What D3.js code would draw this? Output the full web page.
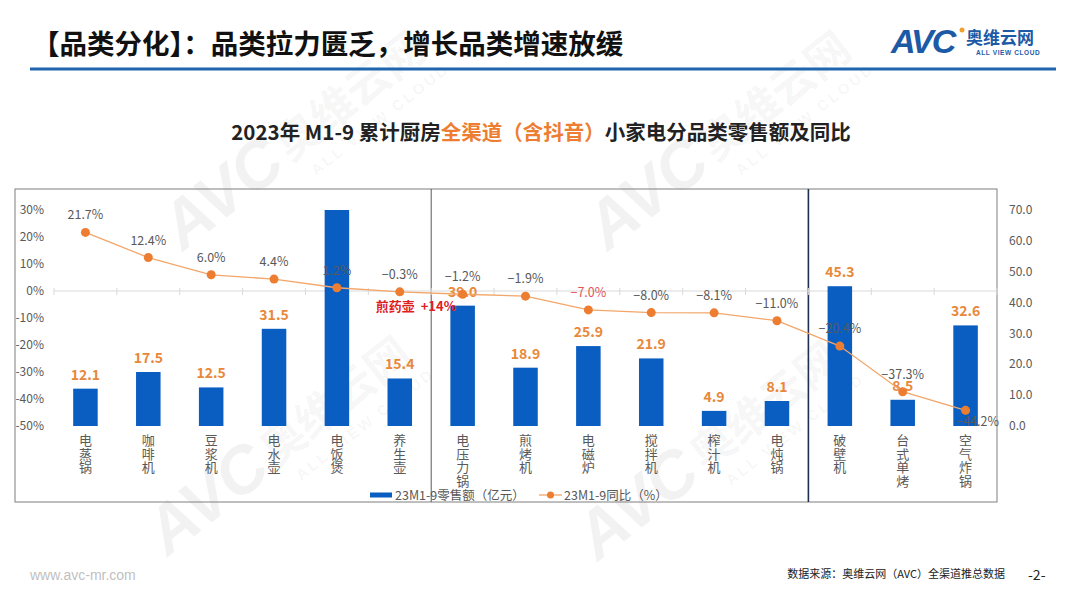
<!DOCTYPE html>
<html>
<head>
<meta charset="utf-8">
<script src="https://cdn.jsdelivr.net/npm/d3@7"></script>
<style>
    body { margin: 0; background: #fff; }
    svg { display: block; font-family: "Noto Sans CJK SC", "Noto Sans", sans-serif; }
</style>
</head>
<body>
<div id="container"></div>
<script>

const categories = ['电蒸锅', '咖啡机', '豆浆机', '电水壶', '电饭煲', '养生壶', '电压力锅', '煎烤机',
    '电磁炉', '搅拌机', '榨汁机', '电炖锅', '破壁机', '台式单烤', '空气炸锅'];
const sales = [12.1, 17.5, 12.5, 31.5, 70.0, 15.4, 39.0, 18.9, 25.9, 21.9, 4.9, 8.1, 45.3, 8.5, 32.6];
const yoy = [21.7, 12.4, 6.0, 4.4, 1.2, -0.3, -1.2, -1.9, -7.0, -8.0, -8.1, -11.0, -20.4, -37.3, -44.2];
const leftTicks = [30, 20, 10, 0, -10, -20, -30, -40, -50];
const rightTicks = [70, 60, 50, 40, 30, 20, 10, 0];
const legendLabels = ['23M1-9零售额（亿元）', '23M1-9同比（%）'];

const width = 1080;
const height = 608;
const BLUE = '#0A5EC2';
const ORANGE = '#ED7D31';
const GRAY = '#595959';

const svg = d3.select('#container')
    .append('svg')
    .attr('width', width)
    .attr('height', height)
    .attr('viewBox', [0, 0, width, height]);

// watermarks
const marks = [[230, 215], [655, 215], [215, 520], [645, 525]];
const wm = svg.append('g').attr('fill', '#000').attr('fill-opacity', 0.05);
marks.forEach(([mx, my]) => {
    const g = wm.append('g').attr('transform', `translate(${mx},${my}) rotate(-38)`);
    g.append('text').attr('x', -60).attr('y', 0).attr('font-size', 66).attr('font-weight', 'bold')
        .attr('font-style', 'italic').attr('font-family', 'Liberation Sans, sans-serif').text('AVC');
    g.append('text').attr('x', 80).attr('y', -4).attr('font-size', 44).attr('font-weight', 'bold').text('奥维云网');
    g.append('text').attr('x', 92).attr('y', 22).attr('font-size', 15).attr('font-weight', 'bold')
        .attr('letter-spacing', 3).attr('font-family', 'Liberation Sans, sans-serif').text('ALL VIEW CLOUD');
});

// page header
svg.append('text')
    .attr('x', 32).attr('y', 54)
    .attr('font-size', 27.5).attr('font-weight', 'bold').attr('fill', '#111')
    .text('【品类分化】：品类拉力匮乏，增长品类增速放缓');

svg.append('line')
    .attr('x1', 30).attr('x2', 1056).attr('y1', 69).attr('y2', 69)
    .attr('stroke', '#1F64AE').attr('stroke-width', 3);

const logo = svg.append('g').attr('fill', '#1C5AA6');
logo.append('text').attr('x', 891).attr('y', 53).attr('font-size', 34).attr('font-weight', 'bold')
    .attr('font-style', 'italic').attr('font-family', 'Liberation Sans, sans-serif').attr('letter-spacing', -2)
    .text('AVC');
logo.append('circle').attr('cx', 962).attr('cy', 30).attr('r', 2.5).attr('fill', '#F0A030');
logo.append('text').attr('x', 966).attr('y', 44).attr('font-size', 17).attr('font-weight', 'bold').text('奥维云网');
logo.append('text').attr('x', 976).attr('y', 55).attr('font-size', 6.5).attr('font-weight', 'bold')
    .attr('font-family', 'Liberation Sans, sans-serif').attr('letter-spacing', 0.6).text('ALL VIEW CLOUD');

// chart title
const title = svg.append('text')
    .attr('x', 541).attr('y', 140)
    .attr('text-anchor', 'middle')
    .attr('font-size', 20.5).attr('font-weight', 'bold').attr('fill', '#222');
title.append('tspan').text('2023年 M1-9 累计厨房');
title.append('tspan').attr('fill', ORANGE).text('全渠道（含抖音）');
title.append('tspan').text('小家电分品类零售额及同比');

// frame
const frameTop = 189, frameBottom = 502;
svg.append('rect')
    .attr('x', 15).attr('y', frameTop).attr('width', 982).attr('height', frameBottom - frameTop)
    .attr('fill', 'none').attr('stroke', '#7F7F7F').attr('stroke-width', 1);

// scales
const x = d3.scaleBand()
    .domain(categories)
    .range([54, 997])
    .paddingInner(0.61)
    .paddingOuter(0.305);

const yL = d3.scaleLinear().domain([-50, 30]).range([426, 210]);
const yR = d3.scaleLinear().domain([0, 70]).range([426, 210]);

const step = x.step();
const bw = x.bandwidth();
const cx = d => x(d) + bw / 2;

// dividers between groups
svg.append('line')
    .attr('x1', x(categories[6]) - (step - bw) / 2).attr('x2', x(categories[6]) - (step - bw) / 2)
    .attr('y1', frameTop).attr('y2', frameBottom)
    .attr('stroke', '#595959').attr('stroke-width', 1);
svg.append('line')
    .attr('x1', x(categories[12]) - (step - bw) / 2).attr('x2', x(categories[12]) - (step - bw) / 2)
    .attr('y1', frameTop).attr('y2', frameBottom)
    .attr('stroke', '#1F3050').attr('stroke-width', 1.6);

// zero axis line with ticks
const y0 = yL(0);
svg.append('line')
    .attr('x1', 54).attr('x2', 997).attr('y1', y0).attr('y2', y0)
    .attr('stroke', '#D9D9D9').attr('stroke-width', 1);
svg.append('g')
    .selectAll('line')
    .data(d3.range(categories.length + 1))
    .join('line')
    .attr('x1', i => 54 + i * step).attr('x2', i => 54 + i * step)
    .attr('y1', y0 - 3).attr('y2', y0 + 4)
    .attr('stroke', '#D9D9D9');

// left axis labels
svg.append('g')
    .selectAll('text')
    .data(leftTicks)
    .join('text')
    .attr('x', 44).attr('y', d => yL(d))
    .attr('dy', '0.35em')
    .attr('text-anchor', 'end')
    .attr('font-size', 12).attr('fill', GRAY)
    .text(d => d + '%');

// right axis labels
svg.append('g')
    .selectAll('text')
    .data(rightTicks)
    .join('text')
    .attr('x', 1009).attr('y', d => yR(d))
    .attr('dy', '0.35em')
    .attr('font-size', 12).attr('fill', GRAY)
    .text(d => d3.format('.1f')(d));

// bars
svg.append('g')
    .selectAll('rect')
    .data(categories)
    .join('rect')
    .attr('x', d => x(d))
    .attr('width', bw)
    .attr('y', (d, i) => yR(Math.min(sales[i], 70)))
    .attr('height', (d, i) => yR(0) - yR(Math.min(sales[i], 70)))
    .attr('fill', BLUE);

// bar labels (value above the axis top is not shown)
svg.append('g')
    .selectAll('text')
    .data(categories.filter((d, i) => sales[i] < 70))
    .join('text')
    .attr('x', d => cx(d))
    .attr('y', d => yR(sales[categories.indexOf(d)]) - 9)
    .attr('text-anchor', 'middle')
    .attr('font-size', 14).attr('font-weight', 'bold').attr('fill', '#E8883A')
    .text(d => d3.format('.1f')(sales[categories.indexOf(d)]));

// yoy line
const line = d3.line()
    .x((d, i) => cx(categories[i]))
    .y(d => yL(d));

svg.append('path')
    .datum(yoy)
    .attr('d', line)
    .attr('fill', 'none')
    .attr('stroke', '#F2A66A')
    .attr('stroke-width', 1.3);

svg.append('g')
    .selectAll('circle')
    .data(yoy)
    .join('circle')
    .attr('cx', (d, i) => cx(categories[i]))
    .attr('cy', d => yL(d))
    .attr('r', 4.5)
    .attr('fill', ORANGE);

const last = yoy.length - 1;
svg.append('g')
    .selectAll('text')
    .data(yoy)
    .join('text')
    .attr('x', (d, i) => cx(categories[i]) + (i === last ? 12 : 0))
    .attr('y', (d, i) => yL(d) + (i === last ? 16 : -13))
    .attr('text-anchor', 'middle')
    .attr('font-size', 12.5)
    .attr('fill', d => d === -7.0 ? '#E0555A' : GRAY)
    .text(d => d3.format('.1f')(d) + '%');

// annotation
svg.append('text')
    .attr('x', cx(categories[5]) - 24).attr('y', yL(-7.5))
    .attr('font-size', 13).attr('font-weight', 'bold').attr('fill', '#E0201E')
    .attr('xml:space', 'preserve')
    .text('煎药壶  +14%');

// category labels, stacked vertically
const catG = svg.append('g')
    .selectAll('text')
    .data(categories)
    .join('text')
    .attr('text-anchor', 'middle')
    .attr('font-size', 13).attr('fill', GRAY);

catG.selectAll('tspan')
    .data(d => d.split('').map(ch => ({ ch, c: d })))
    .join('tspan')
    .attr('x', d => cx(d.c))
    .attr('y', (d, i) => 445 + i * 13.6)
    .text(d => d.ch);

// legend
const legend = svg.append('g').attr('font-size', 12.5).attr('fill', GRAY);
legend.append('rect').attr('x', 370).attr('y', 492.5).attr('width', 22).attr('height', 5).attr('fill', BLUE);
legend.append('text').attr('x', 395).attr('y', 499.5).text(legendLabels[0]);
legend.append('line').attr('x1', 539).attr('x2', 562).attr('y1', 495).attr('y2', 495)
    .attr('stroke', '#F2A66A').attr('stroke-width', 1.3);
legend.append('circle').attr('cx', 550.5).attr('cy', 495).attr('r', 3.5).attr('fill', ORANGE);
legend.append('text').attr('x', 564).attr('y', 499.5).text(legendLabels[1]);

// footer
svg.append('text')
    .attr('x', 30).attr('y', 580)
    .attr('font-size', 14).attr('fill', '#BFBFBF')
    .attr('font-family', 'Liberation Sans, sans-serif')
    .text('www.avc-mr.com');
svg.append('text')
    .attr('x', 1005).attr('y', 578)
    .attr('text-anchor', 'end')
    .attr('font-size', 11).attr('fill', '#222')
    .text('数据来源：奥维云网（AVC）全渠道推总数据');
svg.append('text')
    .attr('x', 1028).attr('y', 580)
    .attr('font-size', 14).attr('fill', '#222')
    .text('-2-');

</script>
</body>
</html>
